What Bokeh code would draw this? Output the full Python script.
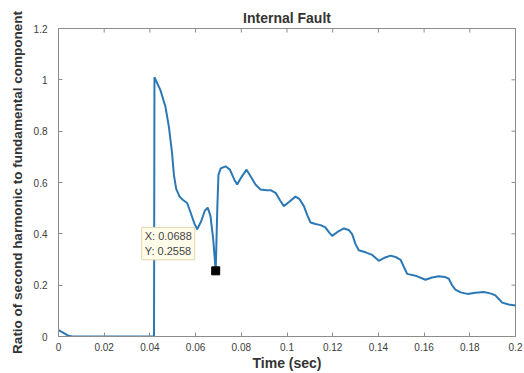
import math
from bokeh.plotting import figure
from bokeh.models import Range1d, FixedTicker, Label
from bokeh.embed import file_html
from bokeh.resources import INLINE

# ---- data ----
time_sec = [0.0, 0.002, 0.004, 0.006, 0.0417, 0.0418, 0.0420,
            0.0446, 0.0468, 0.0483, 0.0497, 0.0505, 0.0515, 0.0530, 0.0545, 0.0563,
            0.0578, 0.0595, 0.0607, 0.0625, 0.0640, 0.0653, 0.0665, 0.0677, 0.0688,
            0.0695, 0.0700, 0.0710, 0.0731, 0.0750, 0.0770, 0.0782, 0.0800, 0.0823,
            0.0840, 0.0862, 0.0884, 0.0910, 0.0928, 0.0950, 0.0970, 0.0986, 0.1010,
            0.1037, 0.1055, 0.1074, 0.1090, 0.1103, 0.1125, 0.1147, 0.1168, 0.1185,
            0.1198, 0.1225, 0.1249, 0.1270, 0.1285, 0.1300, 0.1314, 0.1344, 0.1373,
            0.1402, 0.1430, 0.1453, 0.1475, 0.1497, 0.1512, 0.1526, 0.1562, 0.1606,
            0.1635, 0.1664, 0.1690, 0.1708, 0.1722, 0.1737, 0.1760, 0.1789, 0.1825,
            0.1861, 0.1890, 0.1912, 0.1928, 0.1942, 0.1970, 0.2000]
ratio = [0.025, 0.015, 0.004, 0.0, 0.0, 0.0, 1.01,
         0.96, 0.895, 0.818, 0.715, 0.63, 0.575, 0.545, 0.532, 0.52,
         0.483, 0.44, 0.418, 0.45, 0.49, 0.502, 0.47, 0.38, 0.2558,
         0.5, 0.63, 0.655, 0.663, 0.65, 0.61, 0.592, 0.62, 0.65,
         0.625, 0.592, 0.573, 0.57, 0.57, 0.56, 0.53, 0.508, 0.525,
         0.545, 0.535, 0.508, 0.47, 0.444, 0.438, 0.434, 0.425, 0.405,
         0.392, 0.41, 0.421, 0.415, 0.399, 0.36, 0.336, 0.328, 0.318,
         0.295, 0.308, 0.315, 0.31, 0.299, 0.27, 0.244, 0.237, 0.221,
         0.23, 0.235, 0.232, 0.225, 0.2, 0.183, 0.172, 0.166, 0.17,
         0.173, 0.168, 0.16, 0.145, 0.132, 0.125, 0.121]

tip_x = 0.0688
tip_y = 0.2558
tip_text = "X: 0.0688\nY: 0.2558"

x_ticks = [0, 0.02, 0.04, 0.06, 0.08, 0.1, 0.12, 0.14, 0.16, 0.18, 0.2]
x_tick_labels = ["0", "0.02", "0.04", "0.06", "0.08", "0.1", "0.12", "0.14", "0.16", "0.18", "0.2"]
y_ticks = [0, 0.2, 0.4, 0.6, 0.8, 1.0, 1.2]
y_tick_labels = ["0", "0.2", "0.4", "0.6", "0.8", "1", "1.2"]

title_text = "Internal Fault"
x_label = "Time (sec)"
y_label = "Ratio of second harmonic to fundamental component"

X_MIN, X_MAX = 0, 0.2
Y_MIN, Y_MAX = 0, 1.2

FONT = "Liberation Sans"
AX = "#8c8c8c"
TXT = "#3c3c3c"

p = figure(width=524, height=373, output_backend="svg", toolbar_location=None,
           x_range=Range1d(X_MIN, X_MAX), y_range=Range1d(Y_MIN, Y_MAX),
           min_border_left=58, min_border_right=9, min_border_top=28, min_border_bottom=35,
           background_fill_color="white", border_fill_color="white")
p.grid.visible = False
p.outline_line_color = AX
p.outline_line_width = 1

p.title.text = title_text
p.title.align = "center"
p.title.text_font = FONT
p.title.text_font_size = "14px"
p.title.text_font_style = "bold"
p.title.text_color = "#333333"
p.title.standoff = 6

def style_axis(ax, ticks, labels):
    ax.ticker = FixedTicker(ticks=ticks)
    ax.major_label_overrides = {t: l for t, l in zip(ticks, labels)}
    ax.major_tick_in = 4
    ax.major_tick_out = 0
    ax.minor_tick_line_color = None
    ax.axis_line_color = AX
    ax.major_tick_line_color = AX
    ax.major_label_text_font = FONT
    ax.major_label_text_color = TXT
    ax.major_label_text_font_size = "10px"
    ax.axis_label_text_font = FONT
    ax.axis_label_text_color = "#333333"
    ax.axis_label_text_font_style = "bold"

xa = p.xaxis[0]
style_axis(xa, x_ticks, x_tick_labels)
xa.axis_label = x_label
xa.axis_label_text_font_size = "14px"
xa.major_label_standoff = 6
xa.axis_label_standoff = 1

ya = p.yaxis[0]
style_axis(ya, y_ticks, y_tick_labels)
ya.axis_label = y_label
ya.axis_label_text_font_size = "13.5px"
ya.major_label_standoff = 11
ya.axis_label_standoff = 6

# inward ticks on the right and top edges of the box (MATLAB style)
p.ray(x=[X_MAX] * len(y_ticks), y=y_ticks, length=4, length_units="screen",
      angle=math.pi, line_color=AX, line_width=1)
p.ray(x=x_ticks, y=[Y_MAX] * len(x_ticks), length=4, length_units="screen",
      angle=-math.pi / 2, line_color=AX, line_width=1)

p.line(time_sec, ratio, line_width=2, line_color="#2b78b5")
p.scatter([tip_x], [tip_y], marker="square", size=8, fill_color="black", line_color="black")

tip = Label(x=tip_x, y=tip_y, x_units="data", y_units="data", text=tip_text,
            x_offset=-74, y_offset=11, text_font=FONT, text_font_size="11px",
            text_color="#444444", background_fill_color="#fffdea", background_fill_alpha=1.0,
            border_line_color="#e3d5ae", padding=3)
p.add_layout(tip)

open("out.html", "w").write(file_html(p, INLINE))
